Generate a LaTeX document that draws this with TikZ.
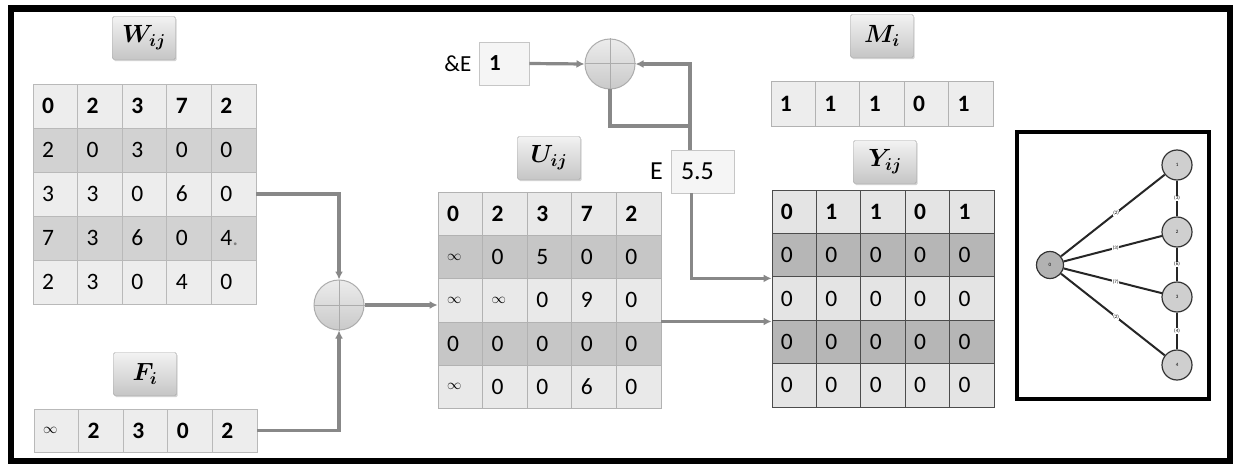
\documentclass[tikz,border=0pt]{standalone}
\usepackage{fontspec}
\setmainfont{Carlito}
\usetikzlibrary{shadows,arrows.meta,calc}

\definecolor{lnk}{HTML}{888888}
\definecolor{wlight}{HTML}{EDEDED}
\definecolor{wdark}{HTML}{D2D2D2}
\definecolor{ulight}{HTML}{E9E9E9}
\definecolor{udark}{HTML}{C6C6C6}
\definecolor{ylight}{HTML}{E4E4E4}
\definecolor{ydark}{HTML}{B6B6B6}

\newcommand\infsym{{\fontsize{14}{14}\selectfont$\infty$}}

\tikzset{
  cellbox/.style={draw=#1, line width=0.8pt, inner xsep=9pt, inner ysep=0pt,
    text width=26.5pt, align=left},
  tagbox/.style={draw=gray!70, top color=gray!10, bottom color=gray!45,
    minimum width=63pt, minimum height=43pt, rounded corners=1.5pt, inner sep=0pt,
    drop shadow={shadow xshift=1.2pt, shadow yshift=-1.6pt, opacity=0.35},
    font=\fontsize{23}{23}\selectfont\boldmath},
  sumnode/.style={circle, draw=gray!65, line width=1pt, top color=gray!15,
    bottom color=gray!42, minimum size=50pt, inner sep=0pt},
  valbox/.style={draw=gray!45, fill=gray!8, line width=0.8pt, minimum height=43pt,
    inner xsep=10pt, inner ysep=0pt, align=left},
  link/.style={draw=lnk, line width=3.2pt},
  flow/.style={link, -{Latex[length=8pt,width=8pt]}},
  gnode/.style={circle, draw=black!80, line width=1.2pt, minimum size=30pt, inner sep=0pt,
    font=\fontsize{5}{5}\selectfont},
  gedge/.style={draw=black!85, line width=2pt},
  elab/.style={fill=white, inner sep=0.6pt, font=\fontsize{5}{5}\selectfont},
}

% grid of cells: name, x0, y0, cell width, cell height, light fill, dark fill, border, rows
\newcommand\cellgrid[9]{%
  \foreach \row [count=\r] in {#9} {%
    \foreach \v [count=\c] in \row {%
      \ifodd\r \def\cellfill{#6}\else\def\cellfill{#7}\fi
      \ifnum\r=1 \def\cellweight{\bfseries}\else\def\cellweight{}\fi
      \node[cellbox=#8, fill=\cellfill, minimum width=#4pt, minimum height=#5pt,
        font=\fontsize{23.5}{23.5}\selectfont\cellweight]
        (#1-\r-\c) at ({#2+(\c-0.5)*#4},{#3+(\r-0.5)*#5}) {\v};
    }%
  }%
}

\begin{document}
\begin{tikzpicture}[x=1pt, y=-1pt]
\useasboundingbox (0,0) rectangle (1233,465);
\fill[white] (0,0) rectangle (1233,465);

% outer frame
\draw[line width=6.5pt] (11,8.5) rectangle (1229.8,461);

% matrices
\cellgrid{w}{33}{84}{44.6}{44}{wlight}{wdark}{gray!55}{{0,2,3,7,2},{2,0,3,0,0},{3,3,0,6,0},{7,3,6,0,4{\color{gray}.}},{2,3,0,4,0}}
\cellgrid{f}{34}{409}{44.6}{43}{wlight}{wdark}{gray!55}{{\infsym,2,3,0,2}}
\cellgrid{u}{438}{192}{44.6}{43.3}{ulight}{udark}{gray!60}{{0,2,3,7,2},{\infsym,0,5,0,0},{\infsym,\infsym,0,9,0},{0,0,0,0,0},{\infsym,0,0,6,0}}
\cellgrid{y}{772}{190}{44.4}{43.4}{ylight}{ydark}{black!70}{{0,1,1,0,1},{0,0,0,0,0},{0,0,0,0,0},{0,0,0,0,0},{0,0,0,0,0}}
\cellgrid{m}{771}{81}{44.4}{45}{wlight}{wdark}{gray!60}{{1,1,1,0,1}}

% matrix titles
\node[tagbox] (tw) at (144,38) {$W_{ij}$};
\node[tagbox] (tf) at (145,374) {$F_{i}$};
\node[tagbox] (tu) at (549,158) {$U_{ij}$};
\node[tagbox] (ty) at (885,162) {$Y_{ij}$};
\node[tagbox] (tm) at (882,36) {$M_{i}$};

% summing junctions
\node[sumnode] (s1) at (339,305) {};
\node[sumnode] (s2) at (610,64) {};
\foreach \s in {s1,s2} {
  \draw[gray!65, line width=1pt] (\s.north) -- (\s.south) (\s.west) -- (\s.east);
}

% scalar boxes
\node[valbox, text width=30pt, font=\fontsize{23}{23}\selectfont\bfseries] (one) at (504,63.5) {1};
\node[anchor=east, font=\fontsize{23}{23}\selectfont] (amp) at (one.west) {\&E\,};
\node[valbox, text width=43pt, font=\fontsize{26}{26}\selectfont] (ebox) at (702.5,171.5) {5.5};
\node[anchor=east, font=\fontsize{26}{26}\selectfont] (elab) at (ebox.west) {E\,};
\coordinate (etop) at ([xshift=-12.5pt]ebox.north);
\coordinate (ebot) at ([xshift=-11pt]ebox.south);
\coordinate (j) at (690,126);

% connectors
\draw[flow] (w-3-5.east) -| (s1.north);
\draw[flow] (f-1-5.east) -| (s1.south);
\draw[flow] (s1.east) -- (s1.east -| u-3-1.west);
\draw[flow] (u-4-5.north east) -- (u-4-5.north east -| y-4-1.west);
\draw[flow] (ebot) |- ([yshift=-2pt]y-3-1.north west);
\draw[flow] (etop) |- (s2.east);
\draw[link] (s2.south) |- (j);
\draw[flow] (one.east) -- (s2.west);

% graph panel
\draw[line width=3.5pt, fill=white,
  drop shadow={shadow xshift=1.5pt, shadow yshift=-1.5pt, opacity=0.3}]
  (1017,132) rectangle (1209,399);
\node[gnode, fill=gray!60, minimum size=27pt] (g0) at (1050,265) {0};
\node[gnode, fill=gray!38] (g1) at (1177,165) {1};
\node[gnode, fill=gray!38] (g2) at (1177,232) {2};
\node[gnode, fill=gray!38] (g3) at (1177,297) {3};
\node[gnode, fill=gray!38] (g4) at (1177,365) {4};
\draw[gedge] (g0) -- node[elab, pos=0.53] {(2)} (g1);
\draw[gedge] (g0) -- node[elab, pos=0.53] {(3)} (g2);
\draw[gedge] (g0) -- node[elab, pos=0.53] {(7)} (g3);
\draw[gedge] (g0) -- node[elab, pos=0.53] {(2)} (g4);
\draw[gedge] (g1) -- node[elab] {(3)} (g2);
\draw[gedge] (g2) -- node[elab] {(6)} (g3);
\draw[gedge] (g3) -- node[elab] {(4)} (g4);
\end{tikzpicture}
\end{document}
